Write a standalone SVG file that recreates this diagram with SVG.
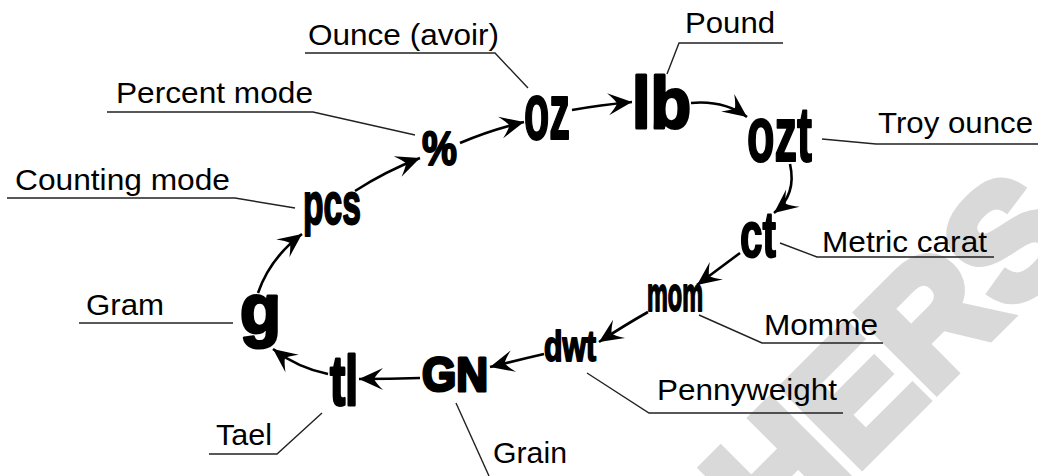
<svg xmlns="http://www.w3.org/2000/svg" width="1038" height="476" viewBox="0 0 1038 476">
<defs>
<style>
.lbl{font-family:"Liberation Sans",Arial,sans-serif;font-size:29px;fill:#000}
.lead{fill:none;stroke:#222;stroke-width:1.4}
.sym{font-family:"Liberation Sans",Arial,sans-serif;font-weight:bold;fill:#000;stroke:#000;stroke-width:2;stroke-linejoin:round}
.heavy{stroke-width:3}
.conn{fill:none;stroke:#000;stroke-width:2.6}
.wm{font-family:"Liberation Sans",Arial,sans-serif;font-weight:bold;font-size:158px;fill:#d9d9d9;stroke:#d9d9d9;stroke-width:11;stroke-linejoin:miter}
</style>
<marker id="ah" viewBox="-26 -13 28 26" refX="0" refY="0" markerWidth="28" markerHeight="26" markerUnits="userSpaceOnUse" orient="auto">
<path d="M0,0 L-24,-11 Q-17,-4 -15,0 Q-17,4 -24,11 Z" fill="#000"/>
</marker>
</defs>
<rect width="1038" height="476" fill="#fff"/>
<text class="wm" transform="translate(774,552) rotate(-45)">HERS</text>

<g id="connectors">
<path class="conn" marker-end="url(#ah)" d="M355,191 Q386,171 420,158"/>
<path class="conn" marker-end="url(#ah)" d="M460,143 Q490,130 524,122"/>
<path class="conn" marker-end="url(#ah)" d="M572,110 Q600,105 632,102"/>
<path class="conn" marker-end="url(#ah)" d="M691,103 Q724,100 747,117"/>
<path class="conn" marker-end="url(#ah)" d="M790,164 Q797,195 774,213"/>
<path class="conn" marker-end="url(#ah)" d="M740,253 Q720,268 697,285"/>
<path class="conn" marker-end="url(#ah)" d="M648,312 Q625,325 599,342"/>
<path class="conn" marker-end="url(#ah)" d="M544,354 Q518,360 490,367"/>
<path class="conn" marker-end="url(#ah)" d="M420,378 Q390,379 359,379"/>
<path class="conn" marker-end="url(#ah)" d="M328,374 Q298,368 273,349"/>
<path class="conn" marker-end="url(#ah)" d="M258,293 Q270,258 302,234"/>
</g>

<g id="oz">
<text class="sym" x="524" y="139" font-size="80" textLength="46" lengthAdjust="spacingAndGlyphs">oz</text>
<path class="lead" d="M305,53 L495,53 L528,88"/>
<text class="lbl" x="308" y="45" textLength="191" lengthAdjust="spacingAndGlyphs">Ounce (avoir)</text>
</g>
<g id="lb">
<text class="sym heavy" x="632" y="128" font-size="72" textLength="59" lengthAdjust="spacingAndGlyphs">lb</text>
<path class="lead" d="M783,43 L679,43 L667,74"/>
<text class="lbl" x="685" y="33" textLength="90" lengthAdjust="spacingAndGlyphs">Pound</text>
</g>
<g id="ozt">
<text class="sym" x="747" y="161" font-size="77" textLength="65" lengthAdjust="spacingAndGlyphs">ozt</text>
<path class="lead" d="M1038,144 L876,144 L822,139"/>
<text class="lbl" x="878" y="133" textLength="155" lengthAdjust="spacingAndGlyphs">Troy ounce</text>
</g>
<g id="ct">
<text class="sym" x="740" y="257" font-size="64" textLength="36" lengthAdjust="spacingAndGlyphs">ct</text>
<path class="lead" d="M994,257 L817,257 L780,243"/>
<text class="lbl" x="822" y="252" textLength="165" lengthAdjust="spacingAndGlyphs">Metric carat</text>
</g>
<g id="mom">
<text class="sym" x="647" y="311" font-size="48" textLength="56" lengthAdjust="spacingAndGlyphs">mom</text>
<path class="lead" d="M883,343 L762,343 L699,315"/>
<text class="lbl" x="764" y="335" textLength="114" lengthAdjust="spacingAndGlyphs">Momme</text>
</g>
<g id="dwt">
<text class="sym" x="544" y="361" font-size="43" textLength="52" lengthAdjust="spacingAndGlyphs">dwt</text>
<path class="lead" d="M843,413 L649,413 L587,373"/>
<text class="lbl" x="657" y="400" textLength="180" lengthAdjust="spacingAndGlyphs">Pennyweight</text>
</g>
<g id="GN">
<text class="sym heavy" x="422" y="391" font-size="48" textLength="66" lengthAdjust="spacingAndGlyphs">GN</text>
<path class="lead" d="M456,403 L489,476"/>
<text class="lbl" x="493" y="463" textLength="74" lengthAdjust="spacingAndGlyphs">Grain</text>
</g>
<g id="tl">
<text class="sym heavy" x="330" y="404.5" font-size="70" textLength="28" lengthAdjust="spacingAndGlyphs">tl</text>
<path class="lead" d="M209,454 L277,454 L322,413"/>
<text class="lbl" x="216" y="445" textLength="56" lengthAdjust="spacingAndGlyphs">Tael</text>
</g>
<g id="g">
<text class="sym heavy" x="240" y="333" font-size="70" textLength="41" lengthAdjust="spacingAndGlyphs">g</text>
<path class="lead" d="M79,323 L233,323"/>
<text class="lbl" x="86" y="315" textLength="78" lengthAdjust="spacingAndGlyphs">Gram</text>
</g>
<g id="pcs">
<text class="sym" x="303" y="224" font-size="60" textLength="58" lengthAdjust="spacingAndGlyphs">pcs</text>
<path class="lead" d="M7,198 L235,198 L295,208"/>
<text class="lbl" x="15" y="190" textLength="215" lengthAdjust="spacingAndGlyphs">Counting mode</text>
</g>
<g id="pct">
<text class="sym" x="422" y="165" font-size="49" textLength="35" lengthAdjust="spacingAndGlyphs">%</text>
<path class="lead" d="M107,112 L313,112 L415,135"/>
<text class="lbl" x="116" y="103" textLength="197" lengthAdjust="spacingAndGlyphs">Percent mode</text>
</g>
</svg>
